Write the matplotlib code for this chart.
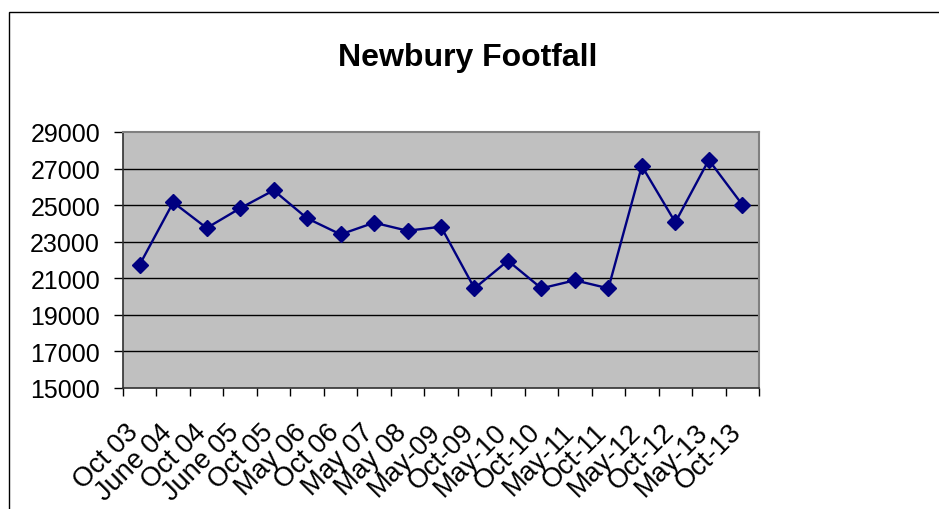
import numpy as np
import matplotlib
matplotlib.use("Agg")
import matplotlib.pyplot as plt
from matplotlib.patches import Rectangle
from matplotlib.transforms import ScaledTranslation

plt.rcParams['font.family'] = ['Liberation Sans', 'DejaVu Sans']

labels = ['Oct 03', 'June 04', 'Oct 04', 'June 05', 'Oct 05', 'May 06', 'Oct 06',
          'May 07', 'May 08', 'May-09', 'Oct-09', 'May-10', 'Oct-10', 'May-11',
          'Oct-11', 'May-12', 'Oct-12', 'May-13', 'Oct-13']
footfall = [21750, 25150, 23750, 24830, 25810, 24280, 23400, 24040, 23600, 23820,
            20450, 21960, 20450, 20890, 20450, 27140, 24060, 27470, 25030]
yticks = [15000, 17000, 19000, 21000, 23000, 25000, 27000, 29000]

W, H = 939, 510
fig = plt.figure(figsize=(W/100, H/100), dpi=100)
fig.patch.set_facecolor('white')

# chart area border (only left and top visible in the crop)
fig.add_artist(Rectangle((9/W, -0.2), 2.0, 1 - 13/H + 0.2, transform=fig.transFigure,
                         fill=False, edgecolor='black', lw=1.0))

ax = fig.add_axes([123/W, 1 - 389/H, (759-123)/W, (389-133)/H])
ax.set_facecolor('#c0c0c0')

x = np.arange(len(labels))
ax.plot(x, footfall, color='#000080', lw=1.7, marker='D', markersize=8,
        markerfacecolor='#000080', markeredgecolor='#000080', zorder=3)

ax.set_ylim(15000, 29000)
ax.set_yticks(yticks)
ax.set_yticklabels([str(v) for v in yticks])
for v in yticks[1:-1]:
    ax.axhline(v, color='black', lw=1.0, zorder=1)

ax.set_xlim(-0.5, len(labels) - 0.5)
ax.set_xticks(np.arange(-0.5, len(labels)))
ax.set_xticklabels([])
ax.set_xticks(x, minor=True)
ax.set_xticklabels(labels, minor=True, rotation=45, ha='right', va='top',
                   rotation_mode='anchor', fontsize=19.5)
ax.tick_params(axis='x', which='major', length=6, width=1, direction='out', color='black')
ax.tick_params(axis='x', which='minor', length=0, pad=22)
ax.tick_params(axis='y', length=6.5, width=1, direction='out', pad=10, labelsize=18)

off = ScaledTranslation(-14/100, 0, fig.dpi_scale_trans)
for lab in ax.get_xticklabels(minor=True):
    lab.set_transform(lab.get_transform() + off)

for s in ['top', 'right']:
    ax.spines[s].set_color('#808080')
    ax.spines[s].set_linewidth(1.5)
for s in ['left', 'bottom']:
    ax.spines[s].set_color('#303030')
    ax.spines[s].set_linewidth(1.2)

fig.text(468/W, 1 - 58/H, 'Newbury Footfall', ha='center', va='center',
         fontsize=23, fontweight='bold')

fig.savefig('out.png', dpi=100)
